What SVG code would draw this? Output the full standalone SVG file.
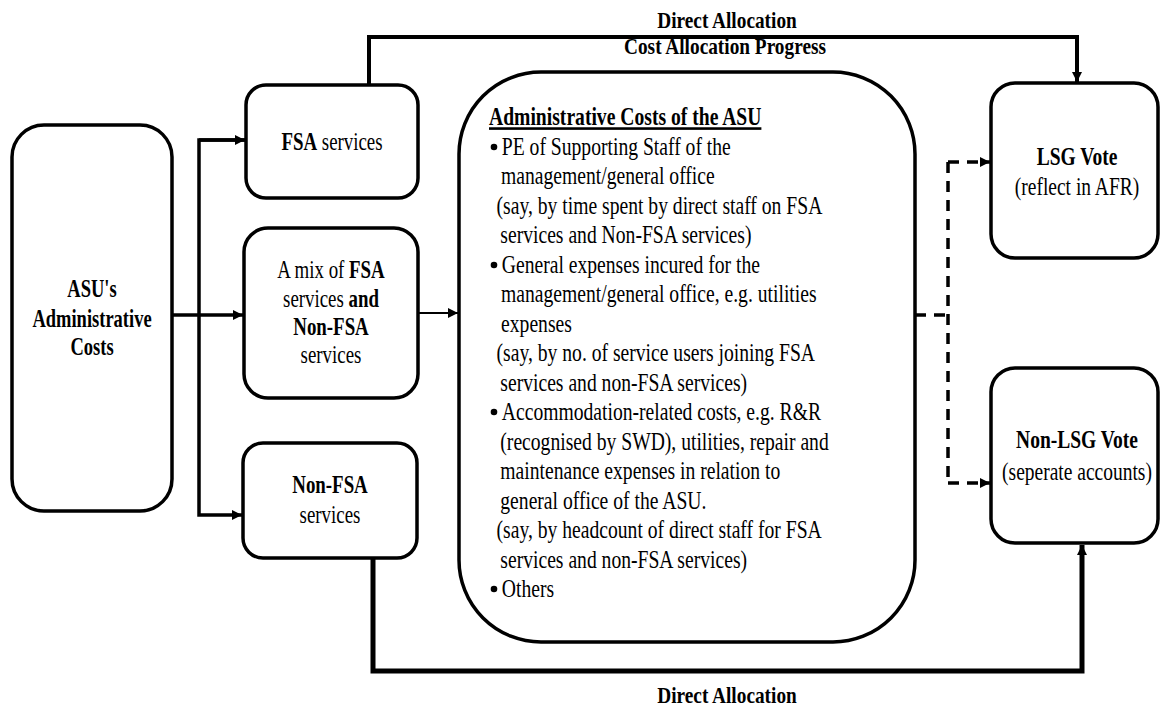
<svg xmlns="http://www.w3.org/2000/svg" width="1161" height="709" viewBox="0 0 1161 709">
<style>
text{font-family:"Liberation Serif","Times New Roman",serif;fill:#000}
.t{font-size:25px}
.h{font-size:23px}
.b{font-weight:bold}
.body{font-size:26px}
.box{fill:#fff;stroke:#000;stroke-width:3.5}
.ln{fill:none;stroke:#000}
.dot{fill:#000}
</style>
<defs>
<marker id="ah" viewBox="0 0 10 10" refX="10" refY="5" markerWidth="11" markerHeight="10" markerUnits="userSpaceOnUse" orient="auto"><path d="M0,0 L10,5 L0,10 z" fill="#000"/></marker>
</defs>
<rect width="1161" height="709" fill="#fff"/>
<g id="connectors">
<path class="ln" d="M172,315 H243" stroke-width="3.5" marker-end="url(#ah)"/>
<path class="ln" d="M246,140 H199 V515 H242" stroke-width="3.5" marker-end="url(#ah)"/>
<path class="ln" d="M199,140 H245" stroke-width="3.5" marker-end="url(#ah)"/>
<path class="ln" d="M418,313 H458" stroke-width="2.2" marker-end="url(#ah)"/>
<path class="ln" d="M369,85 V37 H1077 V82" stroke-width="4" marker-end="url(#ah)"/>
<path class="ln" d="M373,558 V671 H1082 V545" stroke-width="5" marker-end="url(#ah)"/>
<path class="ln" d="M915,315 H948 M948,162 V483" stroke-width="3.5" stroke-dasharray="11,8"/>
<path class="ln" d="M948,162 H990" stroke-width="3.5" stroke-dasharray="11,8" marker-end="url(#ah)"/>
<path class="ln" d="M948,483 H990" stroke-width="3.5" stroke-dasharray="11,8" marker-end="url(#ah)"/>
<text class="h b" transform="translate(727,28) scale(0.84,1)" text-anchor="middle">Direct Allocation</text>
<text class="h b" transform="translate(725,54) scale(0.84,1)" text-anchor="middle">Cost Allocation Progress</text>
<text class="h b" transform="translate(727,703) scale(0.84,1)" text-anchor="middle">Direct Allocation</text>
</g>
<g id="asu">
<rect class="box" x="12" y="125" width="160" height="386" rx="32"/>
<text class="t b" transform="translate(92,297) scale(0.74,1)" text-anchor="middle">ASU's</text>
<text class="t b" transform="translate(92,327) scale(0.74,1)" text-anchor="middle">Administrative</text>
<text class="t b" transform="translate(92,355) scale(0.74,1)" text-anchor="middle">Costs</text>
</g>
<g id="fsa">
<rect class="box" x="246" y="85" width="172" height="113" rx="20"/>
<text class="t" transform="translate(332,150) scale(0.755,1)" text-anchor="middle"><tspan class="b">FSA</tspan> services</text>
</g>
<g id="mix">
<rect class="box" x="244" y="228" width="174" height="170" rx="24"/>
<text class="t" transform="translate(331,278) scale(0.755,1)" text-anchor="middle">A mix of <tspan class="b">FSA</tspan></text>
<text class="t" transform="translate(331,307) scale(0.755,1)" text-anchor="middle">services <tspan class="b">and</tspan></text>
<text class="t b" transform="translate(331,335) scale(0.755,1)" text-anchor="middle">Non-FSA</text>
<text class="t" transform="translate(331,363) scale(0.755,1)" text-anchor="middle">services</text>
</g>
<g id="nonfsa">
<rect class="box" x="243" y="443" width="174" height="115" rx="20"/>
<text class="t b" transform="translate(330,493) scale(0.755,1)" text-anchor="middle">Non-FSA</text>
<text class="t" transform="translate(330,523) scale(0.755,1)" text-anchor="middle">services</text>
</g>
<g id="admin">
<rect class="box" x="459" y="72" width="456" height="570" rx="82"/>
<circle class="dot" cx="494" cy="147" r="3.3"/>
<circle class="dot" cx="494" cy="265" r="3.3"/>
<circle class="dot" cx="494" cy="412" r="3.3"/>
<circle class="dot" cx="494" cy="589" r="3.3"/>
<g transform="translate(489,0) scale(0.755,1)">
<text class="body b" x="0" y="125" text-decoration="underline">Administrative  Costs of the ASU</text>
<text class="body" x="17" y="155">PE of Supporting Staff of the</text>
<text class="body" x="16" y="184">management/general  office</text>
<text class="body" x="10" y="214"> (say, by time spent by direct staff on FSA</text>
<text class="body" x="15" y="243">services and Non-FSA services)</text>
<text class="body" x="17" y="273">General expenses incured for the</text>
<text class="body" x="16" y="302">management/general  office, e.g. utilities</text>
<text class="body" x="16" y="332">expenses</text>
<text class="body" x="10" y="361"> (say, by no. of service users joining  FSA</text>
<text class="body" x="15" y="391">services and non-FSA services)</text>
<text class="body" x="17" y="420">Accommodation-related costs, e.g. R&amp;R</text>
<text class="body" x="15" y="450">(recognised by SWD), utilities,  repair and</text>
<text class="body" x="15" y="479">maintenance  expenses in relation  to</text>
<text class="body" x="15" y="509">general  office of the ASU.</text>
<text class="body" x="10" y="538"> (say, by headcount of direct staff for FSA</text>
<text class="body" x="15" y="568">services and non-FSA services)</text>
<text class="body" x="17" y="597">Others</text>
</g>
</g>
<g id="lsg">
<rect class="box" x="991" y="83" width="167" height="175" rx="24"/>
<text class="t b" transform="translate(1077,165) scale(0.78,1)" text-anchor="middle">LSG Vote</text>
<text class="t" transform="translate(1077,195) scale(0.78,1)" text-anchor="middle">(reflect in AFR)</text>
</g>
<g id="nonlsg">
<rect class="box" x="991" y="368" width="167" height="175" rx="24"/>
<text class="t b" transform="translate(1077,448) scale(0.78,1)" text-anchor="middle">Non-LSG Vote</text>
<text class="t" transform="translate(1077,480) scale(0.78,1)" text-anchor="middle">(seperate accounts)</text>
</g>
</svg>
